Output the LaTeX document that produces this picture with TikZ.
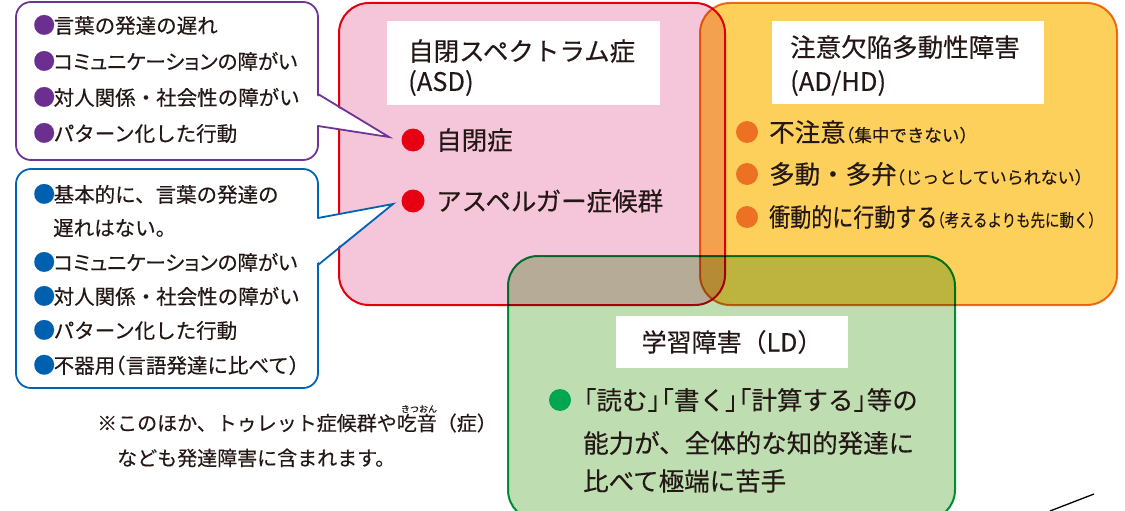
\documentclass[tikz,border=0pt]{standalone}
\usepackage{graphicx}
\usepackage{fontspec}
\setmainfont{Noto Sans CJK JP}[FakeBold=0.3]
\newfontfamily\jpp{Noto Sans CJK JP}[RawFeature=+palt, FakeBold=0.3]
\definecolor{ink}{RGB}{35,24,21}
\definecolor{pinkfill}{RGB}{245,198,218}
\definecolor{orangefill}{RGB}{253,208,92}
\definecolor{greenfill}{RGB}{190,221,176}
\definecolor{redline}{RGB}{230,0,18}
\definecolor{orangeline}{RGB}{237,118,35}
\definecolor{greenline}{RGB}{0,153,68}
\definecolor{purpleline}{RGB}{112,52,150}
\definecolor{blueline}{RGB}{0,100,180}
\definecolor{purpledot}{RGB}{107,47,143}
\definecolor{bluedot}{RGB}{0,96,176}
\definecolor{reddot}{RGB}{230,0,18}
\definecolor{orangedot}{RGB}{237,113,35}
\definecolor{greendot}{RGB}{0,166,81}
\newcommand{\obr}{\makebox[0.52em][r]{「}}
\newcommand{\cbr}{\makebox[0.52em][l]{」}}
\newcommand{\opar}{\makebox[0.5em][r]{（}}
\newcommand{\cpar}{\makebox[0.5em][l]{）}}
\newcommand{\bul}[1]{\makebox[1em][l]{\textcolor{#1}{\fontsize{22}{24}\selectfont ●}}}
\begin{document}
\begin{tikzpicture}[x=1pt,y=-1pt,
  lbl/.style={anchor=west, inner sep=0pt, text=ink, font=\fontsize{25.5}{30}\selectfont},
  cl/.style={anchor=west, inner sep=0pt, text=ink, font=\fontsize{20.5}{24}\selectfont},
  note/.style={anchor=west, inner sep=0pt, text=ink, font=\fontsize{20}{24}\selectfont},
  dot/.style={circle, inner sep=0pt, minimum size=23pt},
  bigbox/.style={line width=2pt, rounded corners=30pt, blend mode=multiply},
  calloutbox/.style={line width=1.8pt, fill=white, rounded corners=15pt},
  whitebox/.style={fill=white, draw=none, inner sep=0pt, anchor=north west}
]
\useasboundingbox (0,0) rectangle (1125,511);

% three overlapping areas
\draw[bigbox, draw=redline, fill=pinkfill] (339,3) rectangle (725,305);
\draw[bigbox, draw=orangeline, fill=orangefill] (700,3) rectangle (1117,305);
\draw[bigbox, draw=greenline, fill=greenfill] (508,256) rectangle (955,520);

% white label boxes
\node[whitebox, minimum width=273pt, minimum height=84pt] (asdbox) at (387,21) {};
\node[whitebox, minimum width=272pt, minimum height=83pt] (adhdbox) at (772,21) {};
\node[fill=white, inner sep=0pt, minimum width=232pt, minimum height=52pt, text=ink,
      font=\fontsize{25}{30}\selectfont] (ldbox) at (732,342) {学習障害（LD）};

\node[lbl] (asd1) at (408,51) {自閉スペクトラム症};
\node[lbl] (asd2) at (408,83) {(ASD)};
\node[lbl] (adhd1) at (790,47) {注意欠陥多動性障害};
\node[lbl] (adhd2) at (790,83) {(AD/HD)};

% ASD items
\node[dot, fill=reddot] (da1) at (413,140) {};
\node[lbl] (ta1) at (436,140) {自閉症};
\node[dot, fill=reddot] (da2) at (413,201) {};
\node[lbl] (ta2) at (436,201) {アスペルガー症候群};

% ADHD items
\node[dot, fill=orangedot, minimum size=22pt] (dh1) at (747,132) {};
\node[lbl] (th1) at (769,132) {不注意\fontsize{17.5}{20}\selectfont\opar 集中できない\cpar};
\node[dot, fill=orangedot, minimum size=22pt] (dh2) at (747,174) {};
\node[lbl] (th2) at (769,174) {多動・多弁\fontsize{17}{20}\selectfont\opar じっとしていられない\cpar};
\node[dot, fill=orangedot, minimum size=22pt] (dh3) at (747,217) {};
\node[lbl] (th3) at (769,217) {\scalebox{0.825}[1]{衝動的に行動する\fontsize{17.5}{20}\selectfont\opar 考えるよりも先に動く\cpar}};

% LD items
\node[dot, fill=greendot, minimum size=22pt] (dl1) at (560,400) {};
\node[lbl] (tl1) at (583,400) {\obr 読む\cbr\obr 書く\cbr\obr 計算する\cbr 等の};
\node[lbl] (tl2) at (583,443) {能力が、全体的な知的発達に};
\node[lbl] (tl3) at (583,481) {比べて極端に苦手};

% purple callout
\coordinate (ptip) at (389,137);
\draw[calloutbox, draw=purpleline] (16,2) rectangle (318,160);
\fill[white] (316,95) -- (ptip) -- (316,125) -- cycle;
\draw[line width=1.8pt, purpleline, line join=miter] (318,94) -- (ptip) -- (318,126);
\node[cl] (p1) at (33,25) {\bul{purpledot}言葉の発達の遅れ};
\node[cl] (p2) at (33,61) {\bul{purpledot}{\jpp コミュニケーションの障がい}};
\node[cl] (p3) at (33,97) {\bul{purpledot}対人関係・社会性の障がい};
\node[cl] (p4) at (33,133) {\bul{purpledot}パターン化した行動};

% blue callout
\coordinate (btip) at (393,204);
\draw[calloutbox, draw=blueline] (16,169) rectangle (318,388);
\fill[white] (316,219) -- (btip) -- (316,264) -- cycle;
\draw[line width=1.8pt, blueline, line join=miter] (318,218) -- (btip) -- (318,265);
\node[cl] (b1) at (33,194) {\bul{bluedot}基本的に、言葉の発達の};
\node[cl] (b2) at (53,228) {遅れはない。};
\node[cl] (b3) at (33,262) {\bul{bluedot}{\jpp コミュニケーションの障がい}};
\node[cl] (b4) at (33,296) {\bul{bluedot}対人関係・社会性の障がい};
\node[cl] (b5) at (33,330) {\bul{bluedot}パターン化した行動};
\node[cl] (b6) at (33,365) {\bul{bluedot}不器用\opar 言語発達に比べて\cpar};

% note
\node[note] (n1) at (97,423) {※このほか、トゥレット症候群や吃音（症）};
\node[inner sep=0pt, text=ink, font=\fontsize{9}{10}\selectfont] (ruby) at (419,409) {きつおん};
\node[note] (n2) at (117,458) {なども発達障害に含まれます。};

% stray line bottom right
\coordinate (s1) at (1050,511);
\coordinate (s2) at (1094,494);
\draw[line width=1.3pt, black] (s1) -- (s2);
\end{tikzpicture}
\end{document}
